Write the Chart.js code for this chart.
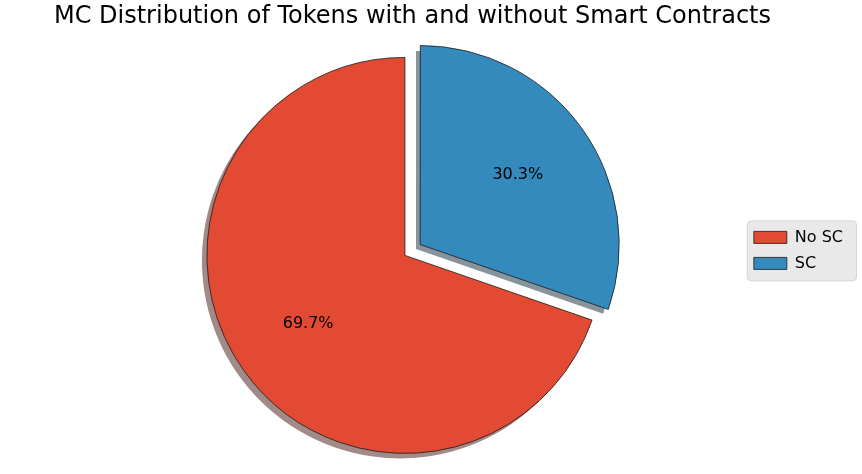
<!DOCTYPE html>
<html>
<head>
<meta charset="utf-8">
<script src="https://cdn.jsdelivr.net/npm/chart.js@4"></script>
<style>
  html, body { margin: 0; padding: 0; background: #fff; }
  canvas { display: block; }
</style>
</head>
<body>
<canvas id="pie" width="862" height="474"></canvas>
<script>
const categories = ["No SC", "SC"];
const shares = [69.7, 30.3];
const titleText = "MC Distribution of Tokens with and without Smart Contracts";

const total = shares.reduce((s, v) => s + v, 0);
const shadowColors = ["#a18a87", "#87949c"];

// where chart.js actually puts an (offset) arc
function arcGeom(arc){
  const p = arc.getProps(["x", "y", "startAngle", "endAngle", "outerRadius"]);
  const mid = (p.startAngle + p.endAngle) / 2;
  const off = (arc.options.offset || 0) / 4;
  const circ = p.endAngle - p.startAngle;
  const t = off * (2 - Math.sin(Math.min(Math.PI, circ)));
  return { ...p, mid, t, cx: p.x + Math.cos(mid) * t, cy: p.y + Math.sin(mid) * t };
}

// matplotlib centres the title over the axes, not the whole figure
const layoutTweak = {
  id: "layoutTweak",
  afterLayout(chart){
    const tb = chart.titleBlock;
    if (tb){
      tb.left = 0;
      tb.right = 825;
      tb.width = 825;
    }
    const lg = chart.legend;
    if (lg){
      lg.top -= 5;
      lg.bottom -= 5;
    }
  }
};

const legendBg = {
  id: "legendBg",
  beforeDraw(chart){
    const boxes = chart.legend && chart.legend.legendHitBoxes;
    if (!boxes || !boxes.length) return;
    const ctx = chart.ctx;
    const l = Math.min(...boxes.map(b => b.left)) - 7;
    const t = Math.min(...boxes.map(b => b.top)) - 9;
    const r = Math.max(...boxes.map(b => b.left + b.width)) + 13;
    const btm = Math.max(...boxes.map(b => b.top + b.height)) + 9;
    ctx.save();
    ctx.beginPath();
    ctx.roundRect(l + 0.5, t + 0.5, r - l, btm - t, 4);
    ctx.fillStyle = "#e9e9e9";
    ctx.fill();
    ctx.strokeStyle = "#d6d6d6";
    ctx.lineWidth = 1;
    ctx.stroke();
    ctx.restore();
  }
};

const pieShadow = {
  id: "pieShadow",
  beforeDatasetsDraw(chart){
    const ctx = chart.ctx;
    chart.getDatasetMeta(0).data.forEach((arc, i) => {
      const g = arcGeom(arc);
      const x = g.cx - 5, y = g.cy + 5;
      ctx.save();
      ctx.beginPath();
      ctx.moveTo(x, y);
      ctx.arc(x, y, g.outerRadius, g.startAngle, g.endAngle);
      ctx.closePath();
      ctx.fillStyle = shadowColors[i];
      ctx.fill();
      ctx.restore();
    });
  }
};

const pctLabels = {
  id: "pctLabels",
  afterDatasetsDraw(chart){
    const ctx = chart.ctx;
    ctx.save();
    ctx.font = "16px 'DejaVu Sans'";
    ctx.fillStyle = "#000";
    ctx.textAlign = "center";
    ctx.textBaseline = "middle";
    chart.getDatasetMeta(0).data.forEach((arc, i) => {
      const g = arcGeom(arc);
      const d = g.outerRadius * 0.6;
      ctx.fillText(shares[i].toFixed(1) + "%", g.cx + Math.cos(g.mid) * d, g.cy + Math.sin(g.mid) * d);
    });
    ctx.restore();
  }
};

Chart.defaults.font.family = "'DejaVu Sans'";
Chart.defaults.color = "#000";

new Chart(document.getElementById("pie").getContext("2d"), {
  type: "pie",
  data: {
    labels: categories,
    datasets: [{
      data: shares,
      backgroundColor: ["#E24A33", "#348ABD"],
      borderColor: "#1a1a1a",
      borderWidth: 0.8,
      offset: [0, 75]
    }]
  },
  options: {
    responsive: false,
    animation: false,
    events: [],
    rotation: shares[1] / total * 360,
    radius: 198,
    layout: { padding: { left: 66, right: 9, top: 0, bottom: 0 } },
    plugins: {
      title: {
        display: true,
        text: titleText,
        font: { size: 24, weight: "normal" },
        color: "#000",
        padding: { top: 2, bottom: 6 }
      },
      legend: {
        position: "right",
        fullSize: false,
        labels: {
          boxWidth: 33,
          boxHeight: 12,
          padding: 10,
          font: { size: 16 },
          color: "#000"
        }
      },
      tooltip: { enabled: false }
    }
  },
  plugins: [layoutTweak, legendBg, pieShadow, pctLabels]
});
</script>
</body>
</html>
